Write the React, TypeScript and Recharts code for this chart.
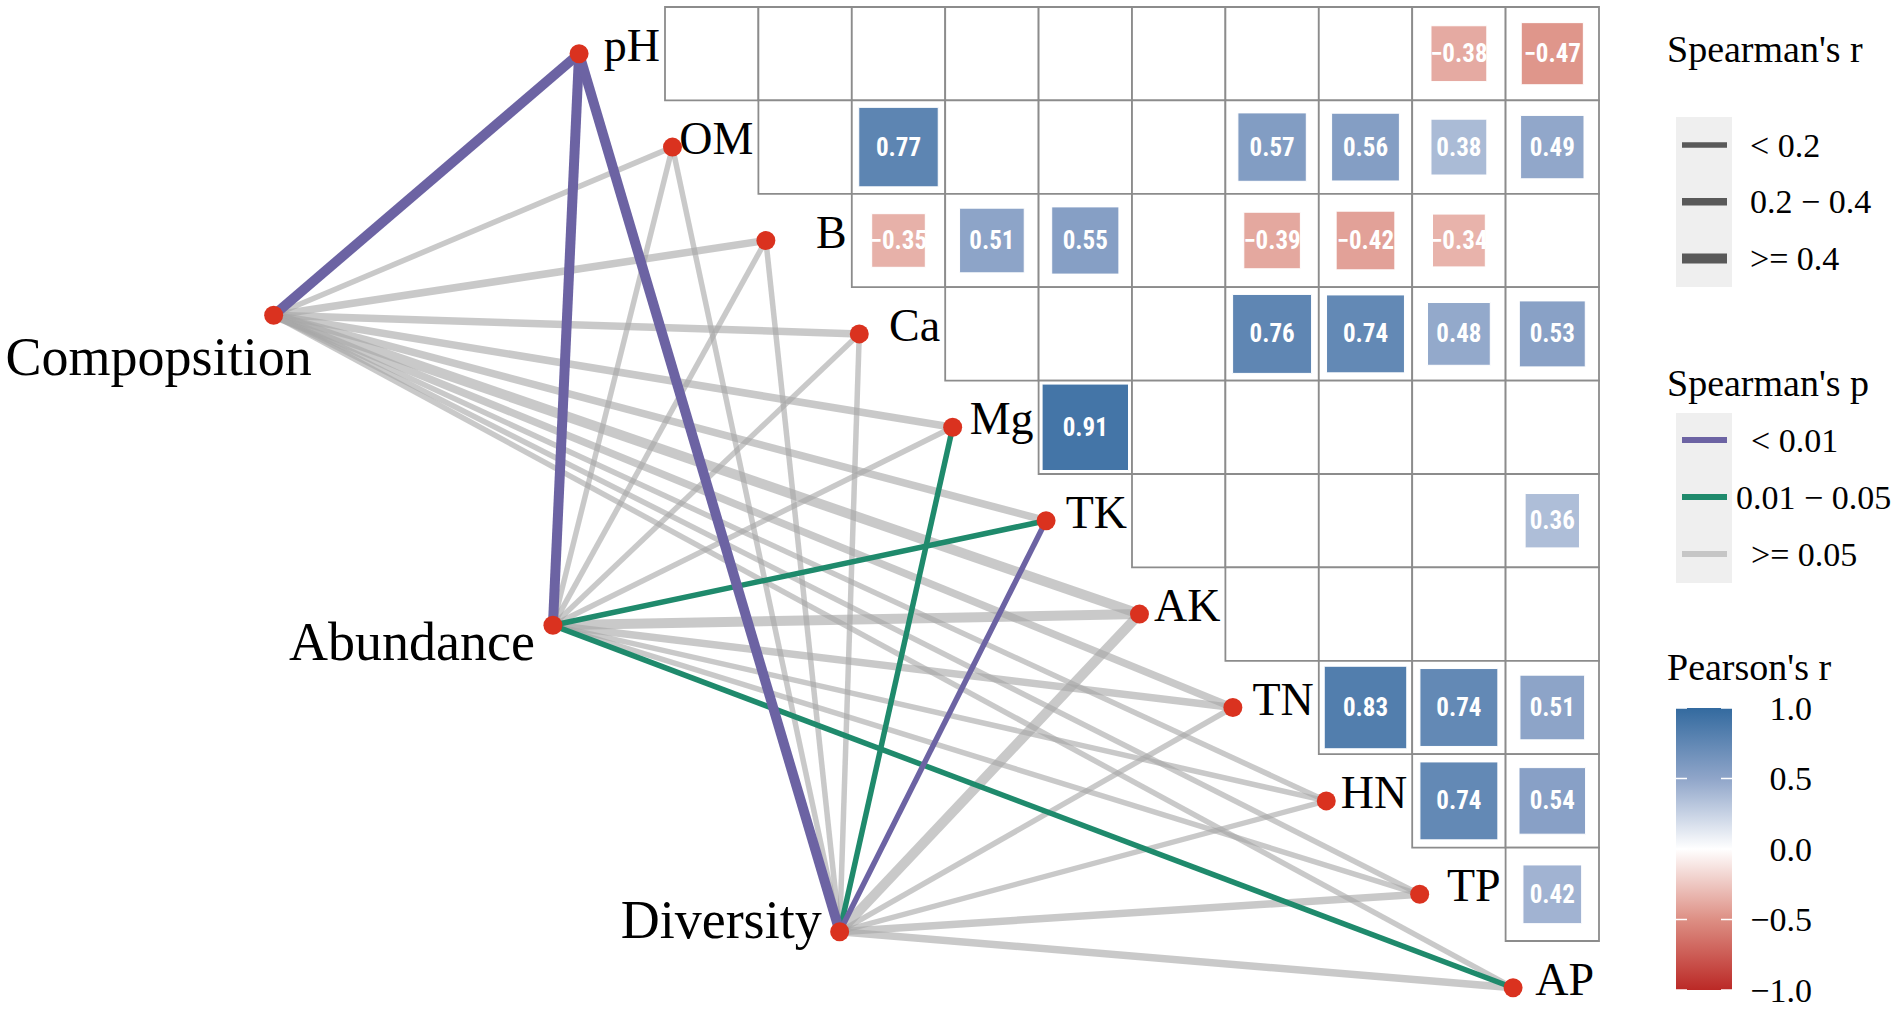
import React from 'react';
import { ScatterChart, Scatter, XAxis, YAxis, ReferenceArea } from 'recharts';

// environmental factors, top to bottom along the diagonal
const vars = ['pH', 'OM', 'B', 'Ca', 'Mg', 'TK', 'AK', 'TN', 'HN', 'TP', 'AP'];

// Pearson's r shown in the triangle (only the significant cells)
const corrRow = ['pH', 'pH', 'OM', 'OM', 'OM', 'OM', 'OM', 'B', 'B', 'B', 'B', 'B', 'B', 'Ca', 'Ca', 'Ca', 'Ca', 'Mg', 'TK', 'TN', 'TN', 'TN', 'HN', 'HN', 'TP'];
const corrCol = ['TP', 'AP', 'Ca', 'TN', 'HN', 'TP', 'AP', 'Ca', 'Mg', 'TK', 'TN', 'HN', 'TP', 'TN', 'HN', 'TP', 'AP', 'TK', 'AP', 'HN', 'TP', 'AP', 'TP', 'AP', 'AP'];
const corrR = [-0.38, -0.47, 0.77, 0.57, 0.56, 0.38, 0.49, -0.35, 0.51, 0.55, -0.39, -0.42, -0.34, 0.76, 0.74, 0.48, 0.53, 0.91, 0.36, 0.83, 0.74, 0.51, 0.74, 0.54, 0.42];

// community indices (network nodes on the left)
const sources = ['Compopsition', 'Abundance', 'Diversity'];
const sourceX = [-4.19, -1.2, 1.87];
const sourceY = [3.3, 6.62, 9.9];

// link classes per source, in the order of vars
// p: 0 = < 0.01, 1 = 0.01 - 0.05, 2 = >= 0.05 ; r: 0 = < 0.2, 1 = 0.2 - 0.4, 2 = >= 0.4
const compP = [0, 2, 2, 2, 2, 2, 2, 2, 2, 2, 2];
const compR = [2, 0, 1, 1, 1, 1, 2, 1, 0, 0, 0];
const abunP = [0, 2, 2, 2, 2, 1, 2, 2, 2, 2, 1];
const abunR = [2, 0, 0, 0, 0, 0, 2, 1, 0, 0, 0];
const divP = [0, 2, 2, 2, 1, 0, 2, 2, 2, 2, 2];
const divR = [2, 0, 0, 0, 0, 0, 2, 0, 0, 1, 1];

const rLabels = ['< 0.2', '0.2 \u2212 0.4', '>= 0.4'];
const pLabels = ['< 0.01', '0.01 \u2212 0.05', '>= 0.05'];
const colorTicks = [1, 0.5, 0, -0.5, -1];

// layout
const W = 1902;
const H = 1009;
const CELL = 93.4;
const ORIGIN_X = 665;
const ORIGIN_Y = 7;
const NODE_SHIFT = 0.92;

const SERIF = "'Liberation Serif', 'Times New Roman', serif";
const NARROW = "'Liberation Sans Narrow', 'Arial Narrow', 'Roboto Condensed', sans-serif";

const P_COLORS = ['#6C63A3', '#1F8A6C', '#A8A8A8'];
const P_OPACITY = [1, 1, 0.62];
const R_WIDTHS = [5.5, 7.5, 10];
const NODE_COLOR = '#DA321F';

const LABEL_OFFSET: Record<string, { dx: number; dy: number }> = {
  Compopsition: { dx: 38, dy: 60 },
  Abundance: { dx: -18, dy: 35 },
  Diversity: { dx: -18, dy: 6 },
};

function mix(a: number[], b: number[], t: number) {
  const c = a.map((v, i) => Math.round(v + (b[i] - v) * t));
  return `rgb(${c[0]},${c[1]},${c[2]})`;
}

const WHITE = [255, 255, 255];
const BLUE_MID = [143, 165, 201];
const BLUE_END = [51, 106, 159];
const RED_MID = [221, 143, 132];
const RED_END = [187, 41, 38];

function fillFor(r: number) {
  const t = Math.abs(r);
  const mid = r > 0 ? BLUE_MID : RED_MID;
  const end = r > 0 ? BLUE_END : RED_END;
  return t <= 0.5 ? mix(WHITE, mid, t / 0.5) : mix(mid, end, (t - 0.5) / 0.5);
}

const fmt = (r: number) => r.toFixed(2).replace('-', '\u2212');

function Legend() {
  const keyX = 1676;
  const keyW = 56;
  const barTop = 708;
  const barH = 282;
  return (
    <svg width={W} height={H} style={{ position: 'absolute', left: 0, top: 0, pointerEvents: 'none' }}>
      <defs>
        <linearGradient id="pearsonGrad" x1="0" y1="0" x2="0" y2="1">
          <stop offset="0%" stopColor={fillFor(1)} />
          <stop offset="25%" stopColor={fillFor(0.5)} />
          <stop offset="50%" stopColor="#ffffff" />
          <stop offset="75%" stopColor={fillFor(-0.5)} />
          <stop offset="100%" stopColor={fillFor(-1)} />
        </linearGradient>
      </defs>

      {/* Spearman's r */}
      <text x={1667} y={62} fontFamily={SERIF} fontSize={38}>Spearman's r</text>
      <rect x={keyX} y={117} width={keyW} height={170} fill="#efefef" />
      {rLabels.map((lab, k) => {
        const y = 145 + 56.7 * k;
        return (
          <g key={lab}>
            <line x1={1682} x2={1727} y1={y} y2={y} stroke="#595959" strokeWidth={R_WIDTHS[k]} />
            <text x={1750} y={y} dominantBaseline="central" fontFamily={SERIF} fontSize={34}>{lab}</text>
          </g>
        );
      })}

      {/* Spearman's p */}
      <text x={1667} y={396} fontFamily={SERIF} fontSize={38}>Spearman's p</text>
      <rect x={keyX} y={413} width={keyW} height={170} fill="#efefef" />
      {pLabels.map((lab, k) => {
        const y = 440 + 57 * k;
        return (
          <g key={lab}>
            <line x1={1682} x2={1727} y1={y} y2={y} stroke={k === 2 ? '#c6c6c6' : P_COLORS[k]} strokeWidth={6} />
            <text x={k === 1 ? 1736 : 1751} y={y} dominantBaseline="central" fontFamily={SERIF} fontSize={34}>{lab}</text>
          </g>
        );
      })}

      {/* Pearson's r */}
      <text x={1667} y={680} fontFamily={SERIF} fontSize={38}>Pearson's r</text>
      <rect x={keyX} y={barTop} width={keyW} height={barH} fill="url(#pearsonGrad)" />
      {colorTicks.map((v) => {
        const y = barTop + ((1 - v) / 2) * barH;
        return (
          <g key={v}>
            <line x1={keyX} x2={keyX + 11} y1={y} y2={y} stroke="#fff" strokeWidth={1.5} />
            <line x1={keyX + keyW - 11} x2={keyX + keyW} y1={y} y2={y} stroke="#fff" strokeWidth={1.5} />
            <text x={1812} y={y} textAnchor="end" dominantBaseline="central" fontFamily={SERIF} fontSize={34}>
              {v.toFixed(1).replace('-', '\u2212')}
            </text>
          </g>
        );
      })}
    </svg>
  );
}

export default function App() {
  const idx = (name: string) => vars.indexOf(name);

  // every cell of the upper triangle
  const cells: { x1: number; x2: number; y1: number; y2: number }[] = [];
  for (let i = 0; i < vars.length - 1; i++) {
    for (let j = i + 1; j < vars.length; j++) {
      cells.push({ x1: j - 1, x2: j, y1: i, y2: i + 1 });
    }
  }

  const squares = corrR.map((r, k) => {
    const i = idx(corrRow[k]);
    const j = idx(corrCol[k]);
    const half = (Math.sqrt(Math.abs(r)) * 0.97) / 2;
    return { cx: j - 0.5, cy: i + 0.5, half, r };
  });

  const squareText = squares.map((s) => ({ x: s.cx, y: s.cy, label: fmt(s.r) }));

  const varNodes = vars.map((name, i) => ({ x: i - NODE_SHIFT, y: i + 0.5, name }));
  const varLabelPts = vars.map((name, i) => ({ x: i, y: i + 0.5, name }));
  const srcNodes = sources.map((name, k) => ({ x: sourceX[k], y: sourceY[k], name }));

  const pSets = [compP, abunP, divP];
  const rSets = [compR, abunR, divR];
  const edges: { key: string; data: { x: number; y: number }[]; p: number; r: number }[] = [];
  sources.forEach((s, k) => {
    vars.forEach((v, i) => {
      edges.push({
        key: `${s}-${v}`,
        data: [srcNodes[k], varNodes[i]],
        p: pSets[k][i],
        r: rSets[k][i],
      });
    });
  });
  // grey links under the coloured ones
  edges.sort((a, b) => b.p - a.p);

  const empty = () => <g />;

  return (
    <div style={{ position: 'absolute', left: 0, top: 0, width: W, height: H, background: '#fff' }}>
      <ScatterChart width={W} height={H} margin={{ top: 0, right: 0, bottom: 0, left: 0 }}>
        <XAxis type="number" dataKey="x" hide allowDataOverflow domain={[-ORIGIN_X / CELL, (W - ORIGIN_X) / CELL]} />
        <YAxis type="number" dataKey="y" hide reversed allowDataOverflow domain={[-ORIGIN_Y / CELL, (H - ORIGIN_Y) / CELL]} />

        {cells.map((c, k) => (
          <ReferenceArea
            key={`cell-${k}`}
            x1={c.x1}
            x2={c.x2}
            y1={c.y1}
            y2={c.y2}
            fill="#ffffff"
            fillOpacity={1}
            stroke="#8c8c8c"
            strokeWidth={1.8}
          />
        ))}
        {squares.map((s, k) => (
          <ReferenceArea
            key={`sq-${k}`}
            x1={s.cx - s.half}
            x2={s.cx + s.half}
            y1={s.cy - s.half}
            y2={s.cy + s.half}
            fill={fillFor(s.r)}
            fillOpacity={1}
            stroke="#ffffff"
            strokeWidth={1}
          />
        ))}

        <Scatter
          data={squareText}
          isAnimationActive={false}
          shape={(p: any) => (
            <text
              x={p.cx}
              y={p.cy}
              textAnchor="middle"
              dominantBaseline="central"
              fill="#ffffff"
              fontFamily={NARROW}
              fontWeight={700}
              fontSize={25}
            >
              {p.payload.label}
            </text>
          )}
        />

        {edges.map((e) => (
          <Scatter
            key={e.key}
            data={e.data}
            isAnimationActive={false}
            shape={empty}
            line={{ stroke: P_COLORS[e.p], strokeWidth: R_WIDTHS[e.r], strokeOpacity: P_OPACITY[e.p] }}
          />
        ))}

        <Scatter
          data={varLabelPts}
          isAnimationActive={false}
          shape={(p: any) => (
            <text x={p.cx - 5} y={p.cy + 7} textAnchor="end" fontFamily={SERIF} fontSize={46} fill="#000">
              {p.payload.name}
            </text>
          )}
        />
        <Scatter
          data={srcNodes}
          isAnimationActive={false}
          shape={(p: any) => {
            const off = LABEL_OFFSET[p.payload.name];
            return (
              <text x={p.cx + off.dx} y={p.cy + off.dy} textAnchor="end" fontFamily={SERIF} fontSize={54} fill="#000">
                {p.payload.name}
              </text>
            );
          }}
        />

        <Scatter
          data={[...srcNodes, ...varNodes]}
          isAnimationActive={false}
          shape={(p: any) => <circle cx={p.cx} cy={p.cy} r={9.5} fill={NODE_COLOR} />}
        />
      </ScatterChart>
      <Legend />
    </div>
  );
}
